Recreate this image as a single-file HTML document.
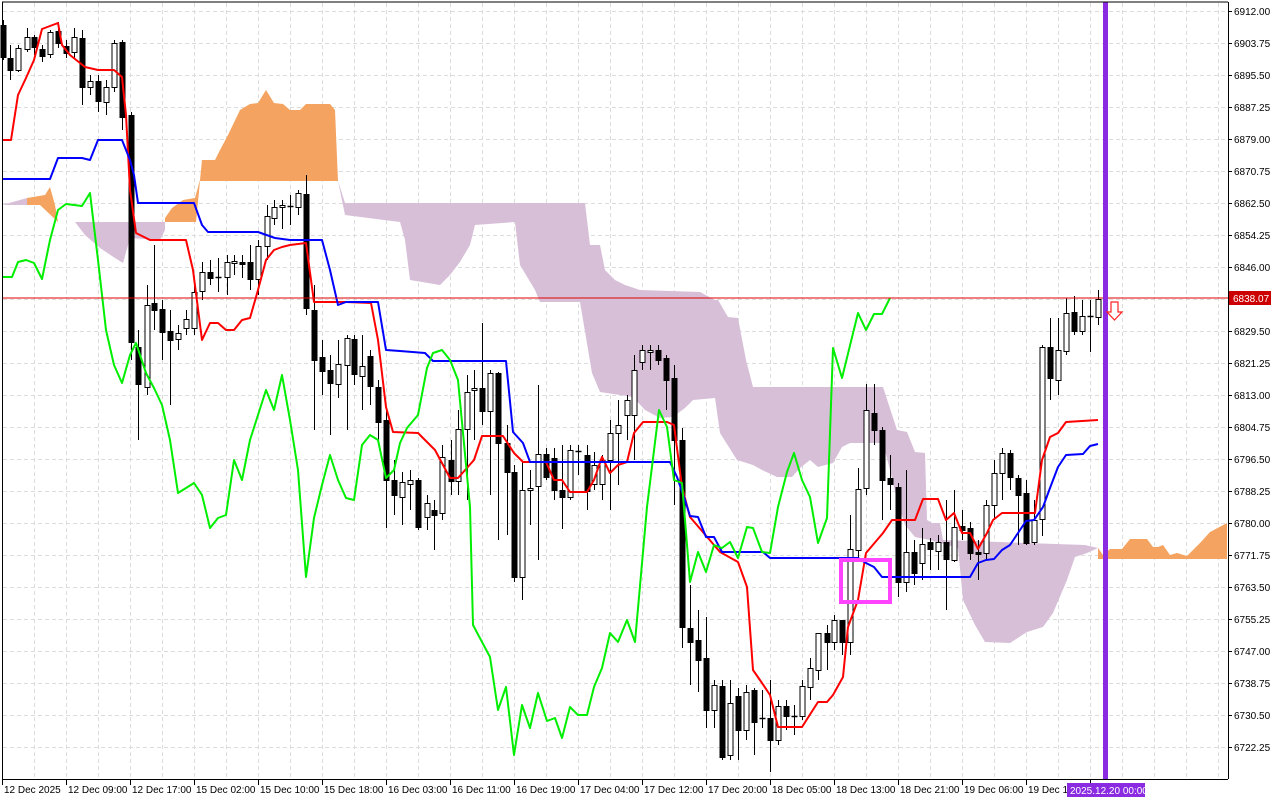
<!DOCTYPE html>
<html><head><meta charset="utf-8"><style>
html,body{margin:0;padding:0;background:#fff;width:1280px;height:800px;overflow:hidden}
svg{display:block}
text{font-family:"Liberation Sans",sans-serif;font-size:10px;fill:#000}
</style></head><body>
<svg id="s" width="1280" height="800" xmlns="http://www.w3.org/2000/svg">
<rect x="0" y="0" width="1280" height="800" fill="#fff"/>
<g id="grid" stroke="#dcdcdc" stroke-width="1" stroke-dasharray="4,3"></g>
<g id="cloud"></g>
<g id="candles"></g>
<g id="lines" fill="none" stroke-width="2" stroke-linejoin="round"></g>
<line x1="2" y1="298" x2="1228" y2="298" stroke="#e00000" stroke-width="1"/>
<rect x="841" y="560" width="49" height="42" fill="none" stroke="#ff44ff" stroke-width="4"/>
<rect x="1103" y="2" width="5" height="777" fill="#8a2be2"/>
<polygon points="1111,302 1118,302 1118,312 1122,312 1114.5,320 1107,312 1111,312" fill="#fff" stroke="#ff2020" stroke-width="1.2"/>
<g stroke="#000" stroke-width="1" fill="none">
<line x1="2" y1="2" x2="1228" y2="2"/>
<line x1="2.5" y1="2" x2="2.5" y2="779"/>
<line x1="1228.5" y1="2" x2="1228.5" y2="779"/>
<line x1="2" y1="779.5" x2="1228" y2="779.5"/>
</g>
<g id="axis"></g>
<g id="yl">
<text x="1234" y="15">6912.00</text>
<text x="1234" y="47">6903.75</text>
<text x="1234" y="79">6895.50</text>
<text x="1234" y="111">6887.25</text>
<text x="1234" y="143">6879.00</text>
<text x="1234" y="175">6870.75</text>
<text x="1234" y="207">6862.50</text>
<text x="1234" y="239">6854.25</text>
<text x="1234" y="271">6846.00</text>
<text x="1234" y="335">6829.50</text>
<text x="1234" y="367">6821.25</text>
<text x="1234" y="399">6813.00</text>
<text x="1234" y="431">6804.75</text>
<text x="1234" y="463">6796.50</text>
<text x="1234" y="495">6788.25</text>
<text x="1234" y="527">6780.00</text>
<text x="1234" y="559">6771.75</text>
<text x="1234" y="591">6763.50</text>
<text x="1234" y="623">6755.25</text>
<text x="1234" y="655">6747.00</text>
<text x="1234" y="687">6738.75</text>
<text x="1234" y="719">6730.50</text>
<text x="1234" y="751">6722.25</text>
</g>
<rect x="1229" y="291" width="42" height="14" fill="#cc0000"/>
<text x="1233" y="302" style="fill:#fff">6838.07</text>
<g id="xl">
<text x="4" y="793">12 Dec 2025</text>
<text x="68" y="793">12 Dec 09:00</text>
<text x="132" y="793">12 Dec 17:00</text>
<text x="196" y="793">15 Dec 02:00</text>
<text x="260" y="793">15 Dec 10:00</text>
<text x="324" y="793">15 Dec 18:00</text>
<text x="388" y="793">16 Dec 03:00</text>
<text x="452" y="793">16 Dec 11:00</text>
<text x="516" y="793">16 Dec 19:00</text>
<text x="580" y="793">17 Dec 04:00</text>
<text x="644" y="793">17 Dec 12:00</text>
<text x="708" y="793">17 Dec 20:00</text>
<text x="772" y="793">18 Dec 05:00</text>
<text x="836" y="793">18 Dec 13:00</text>
<text x="900" y="793">18 Dec 21:00</text>
<text x="964" y="793">19 Dec 06:00</text>
<text x="1028" y="793">19 Dec 14:00</text>
</g>
<rect x="1067" y="783" width="78" height="14" fill="#8a2be2"/>
<text x="1070" y="794" style="fill:#fff">2025.12.20 00:00</text>
</svg>
<script>
var NS="http://www.w3.org/2000/svg";
function el(p,t,a){var e=document.createElementNS(NS,t);for(var k in a)e.setAttribute(k,a[k]);document.getElementById(p).appendChild(e);return e;}
for(var x=34;x<1228;x+=32)el("grid","line",{x1:x+.5,y1:3,x2:x+.5,y2:779});
for(var y=11;y<779;y+=32)el("grid","line",{x1:3,y1:y+.5,x2:1228,y2:y+.5});
for(var y=11;y<779;y+=32)el("axis","line",{x1:1228,y1:y+.5,x2:1232,y2:y+.5,stroke:"#000"});
for(var x=2;x<1100;x+=64)el("axis","line",{x1:x+.5,y1:779,x2:x+.5,y2:785,stroke:"#000"});
function poly(p,pts,attrs){attrs.points=pts.map(function(q){return q.join(",")}).join(" ");return el(p,"polygon",attrs);}
var OR="#f4a460",TH="#d8bfd8";
poly("cloud",[[2,205],[27,198],[27,205]],{fill:TH});
poly("cloud",[[27,198],[45,195],[50,187],[55,205],[58,222],[40,205],[27,205]],{fill:OR});
poly("cloud",[[75,222],[165,222],[165,230],[160,240],[130,238],[123,263],[115,258],[100,248],[85,235]],{fill:TH});
poly("cloud",[[165,218],[172,208],[183,200],[195,198],[200,180],[202,160],[215,160],[220,150],[228,135],[240,110],[250,104],[258,103],[266,90],[274,103],[283,104],[290,110],[300,110],[306,104],[330,104],[335,110],[338,181],[200,181],[196,222],[165,222]],{fill:OR});
poly("cloud",[[338,181],[345,203],[585,203],[590,245],[600,245],[605,270],[615,280],[625,285],[640,290],[700,292],[715,300],[718,300],[728,317],[738,318],[746,360],[753,387],[883,387],[897,430],[907,432],[915,452],[925,453],[927,520],[932,523],[940,523],[943,540],[1085,545],[1098,548],[1087,553],[1075,557],[1067,580],[1053,613],[1043,627],[1027,632],[1010,643],[985,642],[975,625],[963,600],[958,548],[930,540],[915,537],[905,525],[897,500],[890,470],[883,443],[850,443],[842,447],[833,463],[818,467],[810,460],[800,468],[792,477],[777,477],[762,470],[753,465],[737,460],[720,433],[715,398],[693,400],[685,408],[673,417],[660,418],[645,410],[633,397],[600,392],[592,373],[580,302],[540,302],[535,290],[520,265],[515,222],[475,225],[470,245],[460,262],[450,275],[440,285],[410,280],[405,240],[400,222],[345,215]],{fill:TH});
poly("cloud",[[1098,548],[1103,555],[1110,549],[1122,549],[1130,539],[1147,539],[1153,547],[1158,547],[1163,545],[1170,555],[1177,553],[1187,556],[1200,543],[1210,532],[1227,523],[1227,559],[1098,559]],{fill:OR});
var C=[[3,25,57,20,60],[10,58,70,45,80],[18,70,48,45,72],[27,49,37,28,52],[34,37,47,35,55],[42,49,56,45,62],[50,54,32,30,58],[58,31,43,22,48],[66,46,53,40,58],[74,52,37,28,58],[82,38,87,30,105],[90,87,81,75,95],[98,81,101,75,112],[106,102,87,80,115],[114,87,43,40,92],[122,42,117,40,130],[131,115,342,112,360],[138,347,384,330,440],[147,387,305,285,395],[154,303,310,245,330],[162,309,332,300,360],[170,331,340,310,405],[178,339,333,325,350],[186,328,319,310,335],[194,328,292,285,335],[202,291,272,262,300],[210,272,278,260,285],[218,277,277,258,292],[227,277,262,255,295],[234,263,261,255,275],[242,262,264,255,278],[250,262,279,245,290],[258,279,246,240,295],[267,246,216,205,260],[274,218,207,200,225],[282,207,205,200,229],[290,206,206,195,225],[298,207,193,190,215],[306,194,308,175,315],[314,310,360,285,430],[322,357,371,340,395],[330,370,383,355,435],[338,384,364,340,398],[347,365,338,335,430],[354,339,374,335,385],[362,376,366,335,410],[370,356,386,350,405],[378,387,422,380,445],[386,420,480,410,528],[394,480,495,460,515],[402,497,482,472,525],[410,484,480,470,510],[418,480,527,478,530],[427,517,503,495,530],[434,510,515,500,550],[442,513,457,445,520],[451,460,481,440,495],[458,481,429,410,495],[467,429,392,375,500],[474,390,388,370,440],[482,388,411,323,425],[490,411,373,370,495],[498,373,443,372,540],[507,443,472,425,535],[514,472,577,465,582],[522,577,490,462,600],[530,490,488,470,525],[538,486,454,385,560],[546,454,477,448,480],[554,458,490,448,500],[562,490,497,445,529],[570,497,450,445,500],[578,451,451,445,475],[587,455,491,445,510],[594,484,465,452,490],[602,484,460,455,500],[610,460,433,420,510],[618,433,425,400,485],[627,415,400,395,440],[634,415,370,355,460],[642,362,350,345,370],[650,352,350,345,370],[658,350,360,345,365],[666,358,380,355,410],[674,378,440,365,505],[682,440,627,428,648],[690,628,642,585,685],[698,640,660,610,692],[706,658,710,617,728],[714,710,685,680,728],[722,686,757,680,760],[730,755,703,680,760],[738,696,730,688,760],[746,730,692,685,740],[754,690,722,688,755],[762,718,718,690,728],[770,718,740,680,772],[778,740,706,700,745],[786,706,716,700,730],[794,716,716,705,735],[802,716,686,680,720],[810,687,668,658,700],[818,670,633,633,680],[827,633,642,625,670],[834,642,620,615,650],[842,620,642,620,655],[850,642,549,515,655],[858,550,489,468,560],[866,488,410,384,495],[874,413,430,384,445],[882,430,480,427,520],[890,478,484,455,510],[898,487,582,483,597],[906,582,552,470,592],[914,552,573,540,585],[922,563,544,528,580],[930,542,549,538,570],[938,551,542,535,570],[946,542,559,500,610],[954,560,527,490,562],[962,526,530,510,540],[970,528,553,522,560],[978,552,554,540,580],[986,553,505,500,560],[994,505,473,460,520],[1002,473,453,448,500],[1010,453,477,450,490],[1018,478,495,475,545],[1026,493,543,480,545],[1034,542,520,500,545],[1042,519,347,345,536],[1050,347,378,318,400],[1058,380,350,318,395],[1066,351,313,298,355],[1074,312,331,296,335],[1082,331,316,300,335],[1090,316,316,300,352],[1098,317,299,290,325]];
C.forEach(function(c){var x=c[0],o=c[1],cl=c[2],h=c[3],l=c[4];
el("candles","line",{x1:x+.5,y1:h,x2:x+.5,y2:l,stroke:"#000","stroke-width":1});
var t=Math.min(o,cl),b=Math.max(o,cl);
if(b-t<1){el("candles","line",{x1:x-2.5,y1:t+.5,x2:x+3.5,y2:t+.5,stroke:"#000","stroke-width":1.5});return;}
var up=cl<o;
el("candles","rect",{x:x-2,y:t+.5,width:5,height:b-t,fill:up?"#fff":"#000",stroke:"#000","stroke-width":1});});
function line(pts,col){el("lines","polyline",{points:pts.map(function(q){return q.join(",")}).join(" "),stroke:col});}
line([[2,140],[11,140],[18,95],[26,78],[34,60],[42,29],[58,23],[62,45],[70,55],[80,63],[85,67],[98,70],[114,70],[122,77],[126,115],[130,190],[136,233],[150,240],[186,240],[193,270],[202,340],[210,323],[218,323],[226,330],[234,330],[242,320],[250,318],[258,290],[266,260],[274,250],[282,247],[290,245],[306,243],[314,302],[346,302],[371,303],[378,340],[386,407],[393,432],[418,433],[435,450],[450,478],[458,478],[474,460],[482,436],[503,436],[514,453],[523,462],[530,462],[546,462],[554,480],[562,480],[570,492],[587,492],[594,480],[602,457],[610,473],[618,465],[627,462],[634,433],[643,422],[667,422],[674,425],[682,487],[690,517],[720,552],[738,562],[747,587],[753,670],[762,683],[770,695],[778,727],[802,727],[818,702],[827,702],[833,695],[843,677],[848,627],[858,600],[866,553],[883,533],[892,520],[915,520],[923,499],[938,499],[946,520],[954,513],[962,533],[970,533],[978,549],[987,533],[993,520],[1002,513],[1035,513],[1042,460],[1050,437],[1058,433],[1066,422],[1098,420]],"#ff0000");
line([[2,179],[50,179],[58,158],[82,158],[90,160],[98,140],[122,140],[130,160],[134,175],[138,203],[194,203],[202,225],[208,232],[258,232],[275,238],[290,240],[322,240],[330,270],[338,305],[346,302],[378,302],[386,350],[400,351],[425,353],[433,361],[506,361],[513,432],[523,443],[530,462],[670,462],[677,477],[685,500],[690,516],[698,517],[706,537],[714,537],[722,552],[763,552],[770,558],[858,558],[866,563],[874,567],[882,577],[970,577],[978,563],[986,560],[994,559],[1002,550],[1010,545],[1018,533],[1026,521],[1034,520],[1043,507],[1050,488],[1058,467],[1066,455],[1083,454],[1090,446],[1098,444]],"#0000ff");
line([[2,277],[12,277],[18,262],[26,260],[34,263],[42,279],[50,240],[58,210],[66,204],[82,206],[90,193],[98,260],[106,330],[114,365],[122,383],[130,355],[136,343],[146,373],[154,388],[162,405],[170,440],[178,493],[194,483],[202,495],[210,528],[218,518],[226,515],[234,460],[242,480],[250,440],[258,415],[266,390],[274,410],[282,375],[290,420],[298,470],[306,577],[314,518],[322,485],[330,455],[338,480],[346,498],[354,500],[362,445],[370,435],[378,440],[386,478],[394,470],[400,443],[407,428],[418,415],[427,368],[433,353],[442,350],[450,360],[458,380],[470,507],[473,625],[490,657],[498,710],[506,687],[514,755],[522,705],[530,728],[538,693],[547,721],[555,718],[562,738],[570,707],[578,715],[587,715],[594,687],[602,668],[610,633],[618,642],[627,620],[635,642],[647,507],[659,410],[667,427],[674,480],[682,483],[690,582],[698,552],[706,572],[714,545],[722,548],[730,542],[738,558],[747,527],[753,528],[762,552],[770,553],[778,507],[787,472],[794,453],[802,480],[810,497],[818,543],[827,518],[833,348],[842,378],[858,313],[866,330],[874,314],[882,314],[890,298]],"#00ee00");
</script>
</body></html>
